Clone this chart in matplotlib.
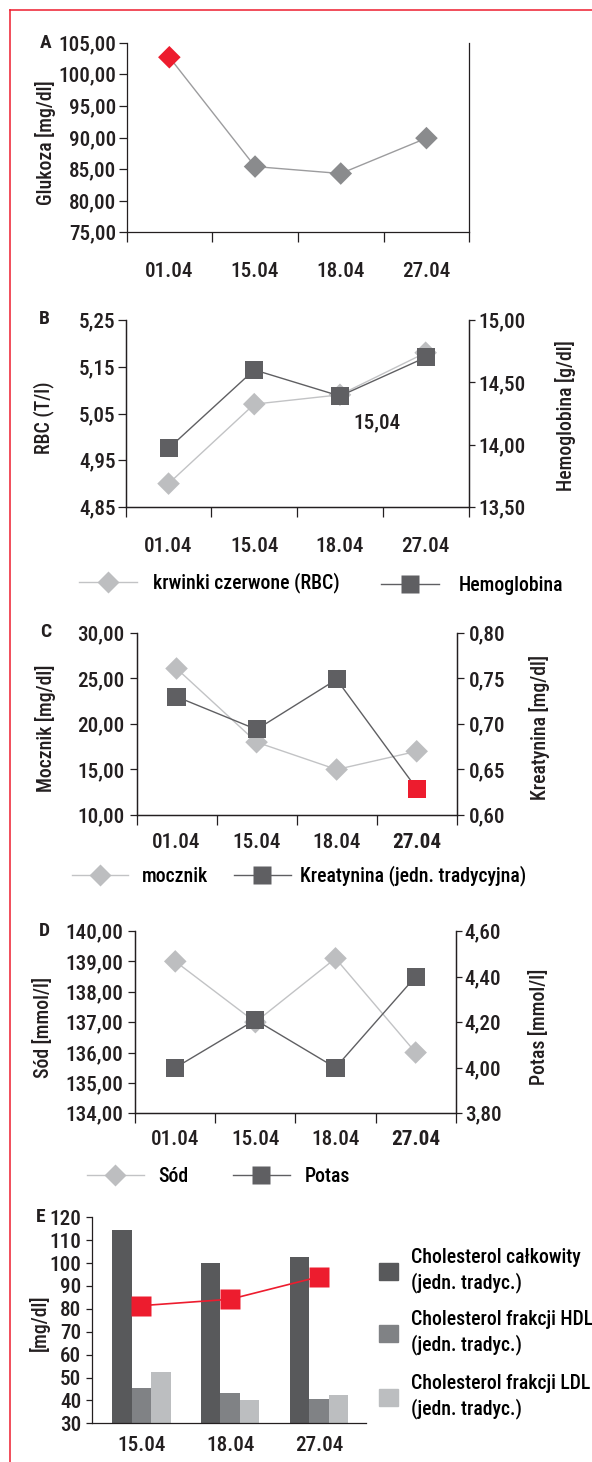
import numpy as np
import matplotlib
matplotlib.use('Agg')
import matplotlib.pyplot as plt
from matplotlib import font_manager as fm
from matplotlib.font_manager import FontProperties
from matplotlib.textpath import TextPath
from matplotlib.lines import Line2D
from matplotlib.patches import Patch

# dane
daty = ['01.04', '15.04', '18.04', '27.04']

glukoza = [102.7, 85.4, 84.3, 89.9]
glukoza_alarm = [True, False, False, False]
glukoza_ticks = [75, 80, 85, 90, 95, 100, 105]

rbc = [4.90, 5.07, 5.09, 5.18]
hemoglobina = [13.97, 14.60, 14.39, 14.70]
rbc_ticks = [4.85, 4.95, 5.05, 5.15, 5.25]
hgb_ticks = [13.5, 14.0, 14.5, 15.0]

mocznik = [26.1, 18.0, 15.0, 17.0]
kreatynina = [0.730, 0.694, 0.749, 0.629]
kreatynina_alarm = [False, False, False, True]
mocznik_ticks = [10, 15, 20, 25, 30]
kreatynina_ticks = [0.60, 0.65, 0.70, 0.75, 0.80]

sod = [139.0, 137.0, 139.1, 136.0]
potas = [4.00, 4.21, 4.00, 4.40]
sod_ticks = [134, 135, 136, 137, 138, 139, 140]
potas_ticks = [3.8, 4.0, 4.2, 4.4, 4.6]

chol_daty = ['15.04', '18.04', '27.04']
chol_calkowity = [114.4, 100.2, 102.8]
chol_hdl = [45.4, 43.4, 40.6]
chol_ldl = [52.4, 40.2, 42.4]
chol_czerwona = [81.4, 84.2, 94.0]
chol_ticks = [30, 40, 50, 60, 70, 80, 90, 100, 110, 120]
chol_opisy = ['Cholesterol całkowity\n(jedn. tradyc.)',
              'Cholesterol frakcji HDL\n(jedn. tradyc.)',
              'Cholesterol frakcji LDL\n(jedn. tradyc.)']


# wąska czcionka (jeśli jest), inaczej zwykła DejaVu
def pick_narrow():
    prefs = ['Liberation Sans Narrow', 'Roboto Condensed', 'Noto Sans', 'Open Sans',
             'DejaVu Sans', 'Roboto', 'Lato', 'Inter']
    ok = []
    for f in fm.fontManager.ttflist:
        if f.style != 'normal' or f.weight not in (400, 'normal', 'regular', 'book'):
            continue
        narrow = ('Narrow' in f.name or 'Condensed' in f.name
                  or f.stretch in ('condensed', 'semi-condensed'))
        if narrow and 'Extra' not in f.name:
            ok.append(f)
    for p in prefs:
        for st in ('condensed', 'semi-condensed', 'normal'):
            for f in ok:
                if f.name.startswith(p) and f.stretch == st:
                    return f.name, f.stretch
    return 'DejaVu Sans', 'normal'


FONT, STRETCH = pick_narrow()
WEIGHT = 500
plt.rcParams['font.family'] = [FONT, 'DejaVu Sans']
plt.rcParams['font.stretch'] = STRETCH
plt.rcParams['font.weight'] = WEIGHT
plt.rcParams['axes.linewidth'] = 0.9
plt.rcParams['axes.edgecolor'] = '#231f20'


def width_px(s, size):
    prop = FontProperties(family=[FONT, 'DejaVu Sans'], stretch=STRETCH, weight=WEIGHT)
    tp = TextPath((0, 0), s, size=size, prop=prop)
    return tp.get_extents().width * 100 / 72


# rozmiary dobrane tak, by szerokości napisów zgadzały się z oryginałem
FS_TICK = min(16.0, 10 * 55 / width_px('105,00', 10))
FS_LAB = min(16.0, 10 * 122 / width_px('Glukoza [mg/dl]', 10))
FS_LEG = min(16.0, 10 * 181 / width_px('Cholesterol frakcji HDL', 10))
plt.rcParams['font.size'] = FS_TICK

# kolory
RED = '#ed1c2e'
DARK = '#5f5f62'
MID = '#8a8b8d'
LIGHT = '#bdbec0'
LLINE = '#c2c3c5'
INK = '#231f20'

W, H = 592, 1462
fig = plt.figure(figsize=(W / 100, H / 100), dpi=100)


def fx(x):
    return x / W


def fy(y):
    return 1 - y / H


def pt(px):
    return px * 0.72


def px_axes(left, top, right, bottom):
    return fig.add_axes([left / W, 1 - bottom / H, (right - left) / W, (bottom - top) / H])


def fmt(v):
    return f'{v:.2f}'.replace('.', ',')


def half_h():
    return 0.5 * FS_TICK / 0.72 * 0.75 + 1


def setup_dates(ax, labels, gap, bold_last=False):
    n = len(labels)
    ax.set_xlim(-0.5, n - 0.5)
    ax.set_xticks(np.arange(n + 1) - 0.5)
    ax.set_xticklabels([])
    ax.set_xticks(np.arange(n), labels, minor=True)
    ax.tick_params(axis='x', which='major', length=pt(10), width=0.9, direction='out', colors=INK)
    ax.tick_params(axis='x', which='minor', length=0, pad=pt(gap - half_h()), labelcolor=INK)
    ax.spines['top'].set_visible(False)
    if bold_last:
        ax.get_xticklabels(minor=True)[-1].set_fontweight('bold')


def setup_y(ax, ticks, tick_len, pad):
    ax.set_ylim(ticks[0], ticks[-1])
    ax.set_yticks(ticks, [fmt(t) for t in ticks])
    ax.tick_params(axis='y', length=pt(tick_len), width=0.9, pad=pt(pad), colors=INK)
    ax.spines['top'].set_visible(False)


def draw_series(ax, values, marker, ms, color, line_color, alarm=None):
    x = np.arange(len(values))
    ax.plot(x, values, color=line_color, lw=1.0, zorder=2, clip_on=False)
    cols = [RED if a else color for a in alarm] if alarm else [color] * len(values)
    ax.scatter(x, values, marker=marker, s=ms ** 2, c=cols, linewidths=0, zorder=3, clip_on=False)


def add_key(handle, label, x0, x1, xtext, y, **kw):
    fs_px = FS_LEG / 0.72
    return fig.legend([handle], [label], loc='center left', bbox_to_anchor=(fx(x0), fy(y)),
                      frameon=False, borderpad=0, borderaxespad=0, fontsize=FS_LEG,
                      handlelength=(x1 - x0) / fs_px, handletextpad=(xtext - x1) / fs_px, **kw)


def side_text(x, y, s, **kw):
    fig.text(fx(x), fy(y), s, ha='center', va='center', color=INK, **kw)


def letter(x, y, s):
    fig.text(fx(x), fy(y), s, ha='center', va='center', color=INK, fontweight='bold', fontsize=14)


def diamond(c, lc):
    return Line2D([], [], color=lc, lw=1.0, marker='D', ms=11.5, mfc=c, mec='none')


def square(c, lc):
    return Line2D([], [], color=lc, lw=1.0, marker='s', ms=13, mfc=c, mec='none')


# A - glukoza
axA = px_axes(126.5, 42.7, 469.3, 232.3)
setup_dates(axA, daty, 38.4)
setup_y(axA, glukoza_ticks, 8, 2)
draw_series(axA, glukoza, 'D', 11.5, MID, '#9c9c9e', glukoza_alarm)
letter(45.7, 42.7, 'A')
side_text(45, 143, 'Glukoza [mg/dl]', rotation=90, fontsize=FS_LAB)

# B - RBC i hemoglobina
axB = px_axes(125.7, 320, 468.5, 507)
setup_dates(axB, daty, 39)
setup_y(axB, rbc_ticks, 8, 2)
draw_series(axB, rbc, 'D', 11.5, LIGHT, LLINE)
axB2 = axB.twinx()
setup_y(axB2, hgb_ticks, 6, 4)
draw_series(axB2, hemoglobina, 's', 13, DARK, DARK)
side_text(377.3, 422.7, '15,04', fontsize=FS_TICK)
letter(44.6, 319, 'B')
side_text(43.4, 418, 'RBC (T/l)', rotation=90, fontsize=FS_LAB)
side_text(565, 416, 'Hemoglobina [g/dl]', rotation=90, fontsize=FS_LAB)
add_key(diamond(LIGHT, LLINE), 'krwinki czerwone (RBC)', 79, 136.7, 153.3, 583)
add_key(square(DARK, DARK), 'Hemoglobina', 380.7, 439, 458.3, 585)

# C - mocznik i kreatynina
axC = px_axes(136.5, 633, 456.7, 815)
setup_dates(axC, daty, 26.7, bold_last=True)
setup_y(axC, mocznik_ticks, 7.5, 4.5)
draw_series(axC, mocznik, 'D', 11.5, LIGHT, LLINE)
axC2 = axC.twinx()
setup_y(axC2, kreatynina_ticks, 6.5, 6)
draw_series(axC2, kreatynina, 's', 13, DARK, DARK, kreatynina_alarm)
letter(45.3, 632, 'C')
side_text(45.3, 728, 'Mocznik [mg/dl]', rotation=90, fontsize=FS_LAB)
side_text(540, 727, 'Kreatynina [mg/dl]', rotation=90, fontsize=FS_LAB)
add_key(diamond(LIGHT, LLINE), 'mocznik', 71.7, 128.4, 141.6, 876)
add_key(square(DARK, DARK), 'Kreatynina (jedn. tradycyjna)', 234, 290.7, 300.2, 876)

# D - sód i potas
axD = px_axes(135.2, 931, 455.7, 1113.3)
setup_dates(axD, daty, 25.7, bold_last=True)
setup_y(axD, sod_ticks, 7, 5)
draw_series(axD, sod, 'D', 11.5, LIGHT, LLINE)
axD2 = axD.twinx()
setup_y(axD2, potas_ticks, 6, 3)
draw_series(axD2, potas, 's', 13, DARK, DARK)
letter(44.6, 931, 'D')
side_text(43.4, 1027, 'Sód [mmol/l]', rotation=90, fontsize=FS_LAB)
side_text(539.2, 1027, 'Potas [mmol/l]', rotation=90, fontsize=FS_LAB)
add_key(diamond(LIGHT, LLINE), 'Sód', 86.8, 143.5, 157.8, 1176)
add_key(square(DARK, DARK), 'Potas', 233, 289.6, 305.1, 1176)

# E - cholesterol
axE = px_axes(91.7, 1217.3, 366, 1423.3)
x = np.arange(len(chol_daty))
w = 0.22
bar_cols = ['#58595b', '#808285', '#bcbec0']
axE.bar(x - w, chol_calkowity, w, color=bar_cols[0])
axE.bar(x, chol_hdl, w, color=bar_cols[1])
axE.bar(x + w, chol_ldl, w, color=bar_cols[2])
axE.plot(x, chol_czerwona, color=RED, lw=1.2, marker='s', ms=14, mec='none', clip_on=False, zorder=4)
axE.set_xlim(-0.56, 2.53)
axE.set_ylim(chol_ticks[0], chol_ticks[-1])
axE.set_yticks(chol_ticks)
axE.set_xticks(x, chol_daty)
axE.tick_params(axis='x', length=0, pad=pt(21.7 - half_h()), colors=INK)
axE.tick_params(axis='y', length=pt(6.5), width=0.9, pad=pt(4), colors=INK)
axE.spines['top'].set_visible(False)
axE.spines['right'].set_visible(False)
letter(40.7, 1217.3, 'E')
side_text(39.3, 1323, '[mg/dl]', rotation=90, fontsize=FS_LAB)
fs_px = FS_LEG / 0.72
for col, lab, yc in zip(bar_cols, chol_opisy, [1270.7, 1332.7, 1396.7]):
    leg = fig.legend([Patch(color=col)], [lab], loc='center left',
                     bbox_to_anchor=(fx(379.3), fy(yc)), frameon=False, borderpad=0,
                     borderaxespad=0, fontsize=FS_LEG, handlelength=19 / fs_px,
                     handleheight=19 / fs_px, handletextpad=(410.7 - 398.3) / fs_px)
    for t in leg.get_texts():
        t.set_linespacing(1.3)

# czerwona ramka
fig.add_artist(Line2D([fx(9.5), fx(9.5)], [fy(9.5), 0], color=RED, lw=1.1, transform=fig.transFigure))
fig.add_artist(Line2D([fx(9.5), 1], [fy(9.5), fy(9.5)], color=RED, lw=1.1, transform=fig.transFigure))

fig.savefig('out.png', dpi=100)
